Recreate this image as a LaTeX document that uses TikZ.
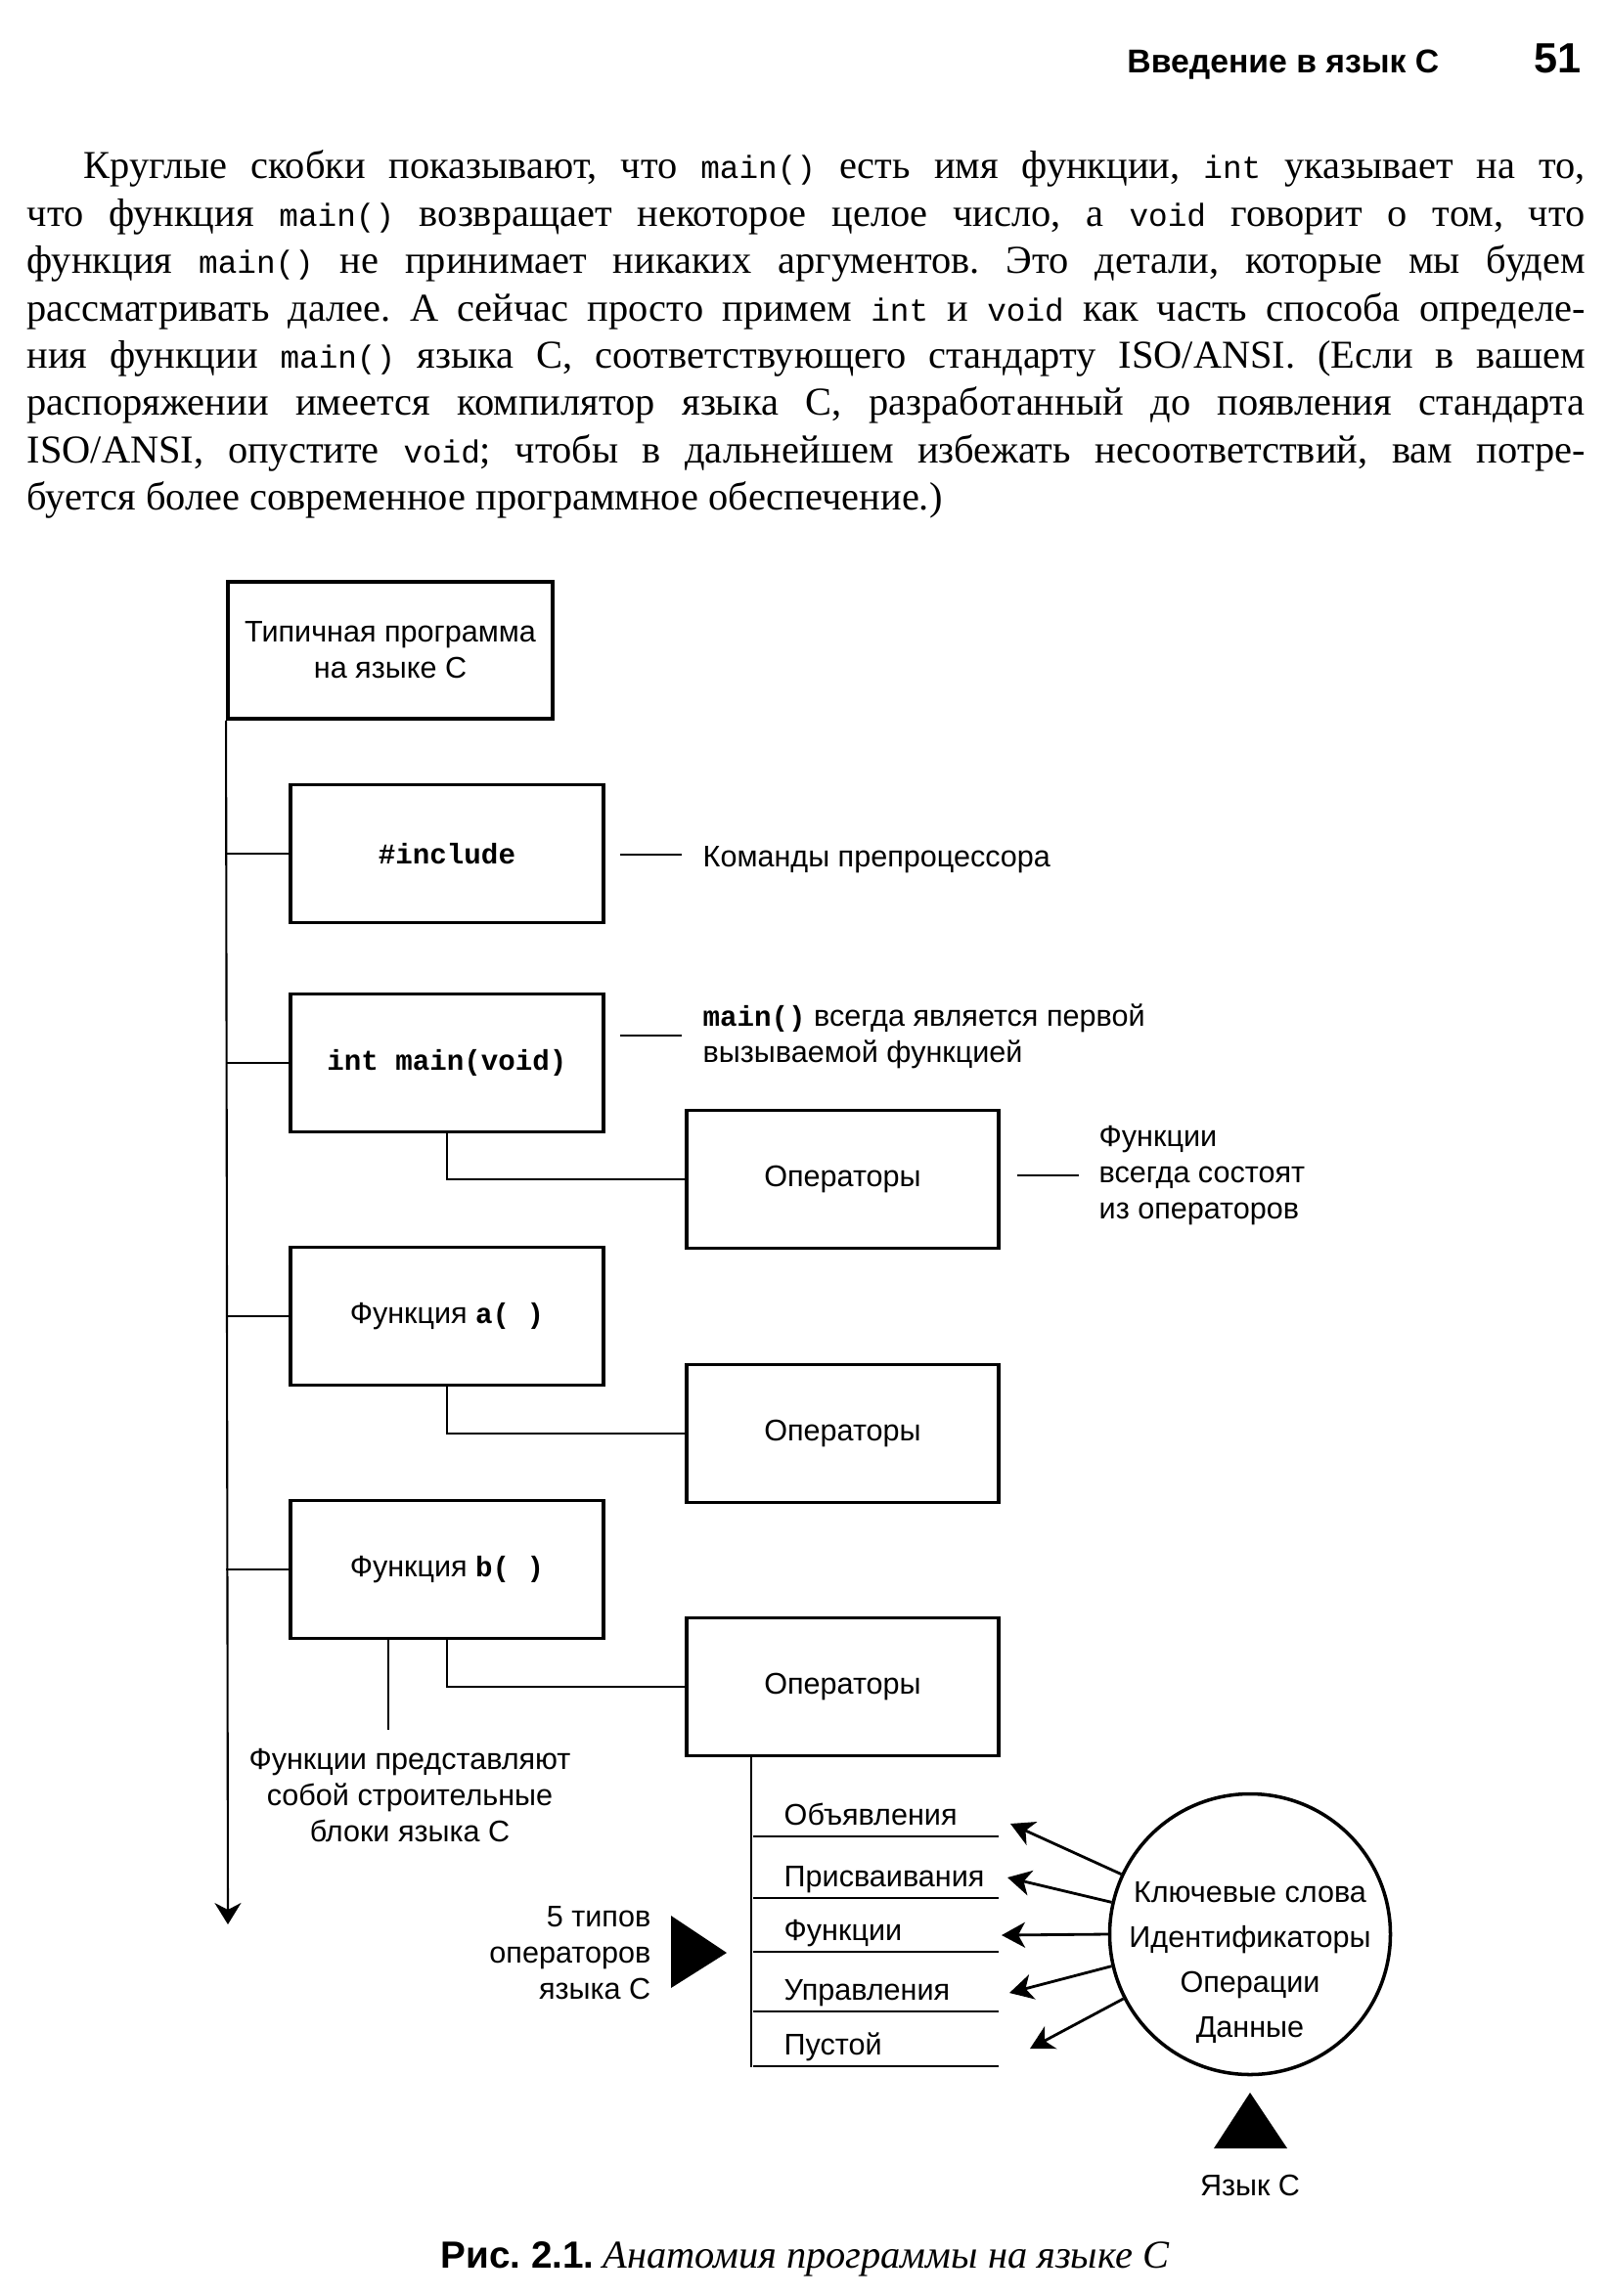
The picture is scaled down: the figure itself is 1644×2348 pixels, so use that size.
\documentclass[tikz,border=0pt]{standalone}
\usepackage{fontspec}
\setmainfont{Liberation Serif}
\setsansfont{Liberation Sans}
\setmonofont{Liberation Mono}
\usetikzlibrary{arrows.meta,positioning,calc}
\frenchspacing
\newcommand{\cmono}[1]{{\ttfamily\fontsize{9.3}{14}\selectfont #1}}
\newcommand{\cbold}[1]{{\ttfamily\bfseries\fontsize{8.3}{10}\selectfont #1}}
\newcommand{\jline}[2]{\makebox[#1][s]{\spaceskip=0.25em plus 0.6em minus 0.1em\relax #2}}
\tikzset{
  bodytxt/.style={anchor=base west,inner sep=0pt,font=\fontsize{11.5}{14}\selectfont},
  blk/.style={draw,line width=1.1pt,inner sep=0pt,align=center,font=\sffamily\fontsize{8.7}{10.5}\selectfont},
  funcbox/.style={blk,minimum width=32mm,minimum height=14.1mm},
  opbox/.style={blk,minimum width=31.9mm,minimum height=14.1mm},
  note/.style={inner sep=0pt,align=left,font=\sffamily\fontsize{8.7}{10.5}\selectfont},
  link/.style={line width=0.6pt},
  arr/.style={-{Stealth[length=2.4mm,width=2.6mm,inset=0.7mm]},line width=0.8pt}
}
\begin{document}
\begin{tikzpicture}[x=0.1mm,y=-0.1mm]
\useasboundingbox (0,0) rectangle (1644,2348);
\node[anchor=base east,inner sep=0pt,font=\sffamily\bfseries\fontsize{9.6}{11}\selectfont] (runhead) at (1472,75) {Введение в язык C};
\node[anchor=base east,inner sep=0pt,font=\sffamily\bfseries\fontsize{12.3}{13}\selectfont] (pageno) at (1617,75) {51};

\node[bodytxt] (p1) at (85,183) {\jline{153.5mm}{Круглые скобки показывают, что \cmono{main()} есть имя функции, \cmono{int} указывает на то,}};
\node[bodytxt] (p2) at (27,231.4) {\jline{159.3mm}{что функция \cmono{main()} возвращает некоторое целое число, а \cmono{void} говорит о том, что}};
\node[bodytxt] (p3) at (27,279.8) {\jline{159.3mm}{функция \cmono{main()} не принимает никаких аргументов. Это детали, которые мы будем}};
\node[bodytxt] (p4) at (27,328.2) {\jline{159.3mm}{рассматривать далее. А сейчас просто примем \cmono{int} и \cmono{void} как часть способа определе-}};
\node[bodytxt] (p5) at (27,376.6) {\jline{159.3mm}{ния функции \cmono{main()} языка C, соответствующего стандарту ISO/ANSI. (Если в вашем}};
\node[bodytxt] (p6) at (27,425) {\jline{159.3mm}{распоряжении имеется компилятор языка C, разработанный до появления стандарта}};
\node[bodytxt] (p7) at (27,473.4) {\jline{159.3mm}{ISO/ANSI, опустите \cmono{void}; чтобы в дальнейшем избежать несоответствий, вам потре-}};
\node[bodytxt] (p8) at (27,521.8) {буется более современное программное обеспечение.)};

\node[blk,minimum width=33.2mm,minimum height=14mm] (prog) at (399,665) {Типичная программа\\на языке C};
\coordinate (spineend) at (233,1968);
\draw[link,-{Stealth[length=2.2mm,width=2.7mm,inset=0.7mm]}] (prog.south west) -- (spineend);

\node[funcbox] (incl) at (457,873) {\cbold{\#include}};
\node[funcbox] (mainf) at (457,1087) {\cbold{int main(void)}};
\node[funcbox] (funa) at (457,1346) {Функция \cbold{a( )}};
\node[funcbox] (funb) at (457,1605) {Функция \cbold{b( )}};
\foreach \n in {incl,mainf,funa,funb}
  \draw[link] (\n.west) -- (\n.west -| prog.south west);

\node[opbox] (ops1) at (861.5,1206) {Операторы};
\node[opbox] (ops2) at (861.5,1466) {Операторы};
\node[opbox] (ops3) at (861.5,1725) {Операторы};
\draw[link] (mainf.south) |- (ops1.west);
\draw[link] (funa.south) |- (ops2.west);
\draw[link] (funb.south) |- (ops3.west);

\node[note,anchor=base west] (ppcmd) at (718,886) {Команды препроцессора};
\draw[link] ($(ppcmd.west)+(-21,-5)$) -- ++(-63,0);
\node[note,anchor=base west] (mainnote) at (718,1086) {\cbold{main()} всегда является первой\\вызываемой функцией};
\draw[link] ($(mainnote.west)+(-21,0)$) -- ++(-63,0);
\node[note,anchor=base west] (opsnote) at (1123,1246) {Функции\\всегда состоят\\из операторов};
\draw[link] ($(opsnote.west)+(-20,0)$) -- ++(-63,0);

\coordinate (blocktop) at (397,1769);
\draw[link] (funb.south -| blocktop) -- (blocktop);
\node[note,align=center,anchor=base] (blocks) at (419,1883) {Функции представляют\\собой строительные\\блоки языка C};

\draw[link] ([xshift=6.8mm]ops3.south west) -- ++(0,317);
\foreach \y/\t [count=\i] in {1878/Объявления,1941/Присваивания,1996/Функции,2057/Управления,2113/Пустой}{
  \draw[link] (770,\y) -- (1021,\y);
  \node[note,anchor=base west] (row\i) at (801,\y-12) {\t};
}
\node[note,align=right,anchor=base east] (kinds) at (666,2044) {5 типов\\операторов\\языка C};
\fill (686,1959) -- (686,2033) -- (743,1997) -- cycle;

\node[draw,circle,line width=1pt,minimum size=28.7mm,inner sep=0pt] (lang) at (1278,1978) {};
\foreach \t [count=\i] in {Ключевые слова,Идентификаторы,Операции,Данные}
  \node[note,anchor=base] (kw\i) at (1278,1899+46*\i) {\t};
\foreach \a/\x/\y [count=\i] in {155/1033/1865,167/1030/1920,180/1024/1979,193.5/1032/2038,207.6/1053/2095}{
  \coordinate (tip\i) at (\x,\y);
  \draw[arr] (lang.\a) -- (tip\i);
}
\fill (1278,2140) -- (1316,2197) -- (1241,2197) -- cycle;
\node[note,anchor=base] (langname) at (1278,2245) {Язык C};

\node[anchor=base,inner sep=0pt] (caption) at (823,2319) {{\sffamily\bfseries\fontsize{11}{13}\selectfont Рис. 2.1.} {\itshape\fontsize{11.5}{13}\selectfont Анатомия программы на языке C}};
\end{tikzpicture}
\end{document}
